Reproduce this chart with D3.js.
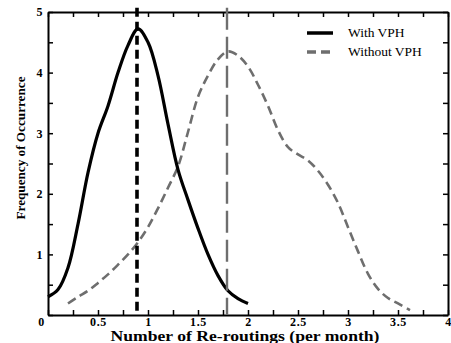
<!DOCTYPE html>
<html lang="en">
<head>
<meta charset="UTF-8">
<title>Re-routings</title>
<script src="https://cdn.jsdelivr.net/npm/d3@7"></script>
<style>
  body { margin: 0; background: #fff; }
  text { font-family: "Liberation Serif", "DejaVu Serif", serif; }
  .axis text { font-weight: bold; font-size: 12px; letter-spacing: 0.6px; }
  .axis path { stroke: #000; stroke-width: 2; }
  .axis line { stroke: #000; stroke-width: 1.5; }
</style>
</head>
<body>
<script>
// curve data
const withX = [0, 0.1, 0.2, 0.3, 0.4, 0.5, 0.6, 0.7, 0.8, 0.9, 1.0, 1.1, 1.2, 1.3, 1.4, 1.5, 1.6, 1.7, 1.8, 1.9, 2.0];
const withY = [0.30, 0.42, 0.78, 1.5, 2.35, 3.0, 3.45, 4.0, 4.45, 4.72, 4.5, 3.95, 3.15, 2.4, 1.9, 1.43, 1.0, 0.65, 0.4, 0.27, 0.19];

const withoutX = [0.2, 0.3, 0.4, 0.5, 0.6, 0.7, 0.8, 0.9, 1.0, 1.1, 1.2, 1.3, 1.4, 1.5, 1.6, 1.7, 1.8, 1.9, 2.0, 2.1, 2.2, 2.3, 2.4, 2.5, 2.6, 2.7, 2.8, 2.9, 3.0, 3.1, 3.2, 3.3, 3.4, 3.5, 3.62];
const withoutY = [0.19, 0.3, 0.4, 0.53, 0.67, 0.83, 1.0, 1.2, 1.45, 1.76, 2.1, 2.45, 3.02, 3.6, 3.95, 4.22, 4.35, 4.28, 4.1, 3.8, 3.45, 3.05, 2.77, 2.65, 2.55, 2.38, 2.15, 1.85, 1.45, 1.05, 0.68, 0.43, 0.28, 0.19, 0.08];

// peak markers (mean of each distribution)
const peakX = [0.89, 1.79];
const peakTop = 5.07;

const seriesNames = ["With VPH", "Without VPH"];

const xTickVals = d3.range(0, 4.001, 0.25);
const xTickLabels = ["0", "0.5", "1", "1.5", "2", "2.5", "3", "3.5", "4"];
const yTickVals = d3.range(0, 5.001, 0.5);
const yTickLabels = ["", "1", "2", "3", "4", "5"];

const w = 451, h = 343;
const margin = {top: 12, right: 3, bottom: 28, left: 48};

const x = d3.scaleLinear().domain([0, 4]).range([margin.left, w - margin.right]);
const y = d3.scaleLinear().domain([0, 5]).range([h - margin.bottom, margin.top]);

const svg = d3.select("body").append("svg")
  .attr("width", w)
  .attr("height", h);

// format helpers: label only on the half / whole steps
const xFmt = d => {
  const i = Math.round(d / 0.5);
  return Math.abs(d - i * 0.5) < 1e-6 ? xTickLabels[i] : "";
};
const yFmt = d => {
  const i = Math.round(d);
  return Math.abs(d - i) < 1e-6 ? yTickLabels[i] : "";
};

// drop the blank tick texts
const dropBlank = g => g.selectAll("text").filter(function() { return this.textContent === ""; }).remove();

// bottom axis
const xAxis = svg.append("g")
  .attr("class", "axis")
  .attr("transform", `translate(0,${y(0)})`)
  .call(d3.axisBottom(x).tickValues(xTickVals).tickFormat(xFmt).tickSize(-5).tickSizeOuter(0).tickPadding(2))
  .call(dropBlank);
xAxis.selectAll("text").filter(d => d === 0).attr("dx", -7);

// top axis
svg.append("g")
  .attr("class", "axis")
  .attr("transform", `translate(0,${y(5)})`)
  .call(d3.axisTop(x).tickValues(xTickVals).tickFormat("").tickSize(-5).tickSizeOuter(0))
  .call(dropBlank);

// left axis
svg.append("g")
  .attr("class", "axis")
  .attr("transform", `translate(${x(0)},0)`)
  .call(d3.axisLeft(y).tickValues(yTickVals).tickFormat(yFmt).tickSize(-5).tickSizeOuter(0).tickPadding(5))
  .call(dropBlank);

// right axis
svg.append("g")
  .attr("class", "axis")
  .attr("transform", `translate(${x(4)},0)`)
  .call(d3.axisRight(y).tickValues(yTickVals).tickFormat("").tickSize(-5).tickSizeOuter(0))
  .call(dropBlank);

// curves
const line = d3.line()
  .x(d => x(d[0]))
  .y(d => y(d[1]))
  .curve(d3.curveCatmullRom.alpha(0.5));

svg.append("path")
  .datum(withoutX.map((v, i) => [v, withoutY[i]]))
  .attr("d", line)
  .attr("fill", "none")
  .attr("stroke", "#6e6e6e")
  .attr("stroke-width", 2.6)
  .attr("stroke-dasharray", "9,5");

svg.append("path")
  .datum(withX.map((v, i) => [v, withY[i]]))
  .attr("d", line)
  .attr("fill", "none")
  .attr("stroke", "#000")
  .attr("stroke-width", 3.2);

// vertical peak lines
svg.append("line")
  .attr("x1", x(peakX[1])).attr("x2", x(peakX[1]))
  .attr("y1", y(peakTop)).attr("y2", y(0))
  .attr("stroke", "#6e6e6e")
  .attr("stroke-width", 2.4)
  .attr("stroke-dasharray", "22,7");

svg.append("line")
  .attr("x1", x(peakX[0])).attr("x2", x(peakX[0]))
  .attr("y1", y(peakTop)).attr("y2", y(0))
  .attr("stroke", "#000")
  .attr("stroke-width", 3.6)
  .attr("stroke-dasharray", "9,5");

// legend
const legend = svg.append("g").attr("transform", "translate(307,33)");
legend.append("line").attr("x1", 0).attr("x2", 26).attr("y1", 0).attr("y2", 0)
  .attr("stroke", "#000").attr("stroke-width", 3.5);
legend.append("line").attr("x1", 0).attr("x2", 26).attr("y1", 19).attr("y2", 19)
  .attr("stroke", "#6e6e6e").attr("stroke-width", 3.5).attr("stroke-dasharray", "9,5");
legend.selectAll("text")
  .data(seriesNames)
  .enter()
  .append("text")
  .attr("x", 41)
  .attr("y", (d, i) => 4 + i * 19)
  .attr("font-size", "13.5px")
  .text(d => d);

// axis titles
svg.append("text")
  .attr("x", 245)
  .attr("y", 341)
  .attr("text-anchor", "middle")
  .attr("font-weight", "bold")
  .attr("font-size", "15px")
  .attr("textLength", 269)
  .attr("lengthAdjust", "spacingAndGlyphs")
  .text("Number of Re-routings (per month)");

svg.append("text")
  .attr("transform", "translate(25,148) rotate(-90)")
  .attr("text-anchor", "middle")
  .attr("font-weight", "bold")
  .attr("font-size", "13px")
  .attr("textLength", 143)
  .attr("lengthAdjust", "spacingAndGlyphs")
  .text("Frequency of Occurrence");
</script>
</body>
</html>
